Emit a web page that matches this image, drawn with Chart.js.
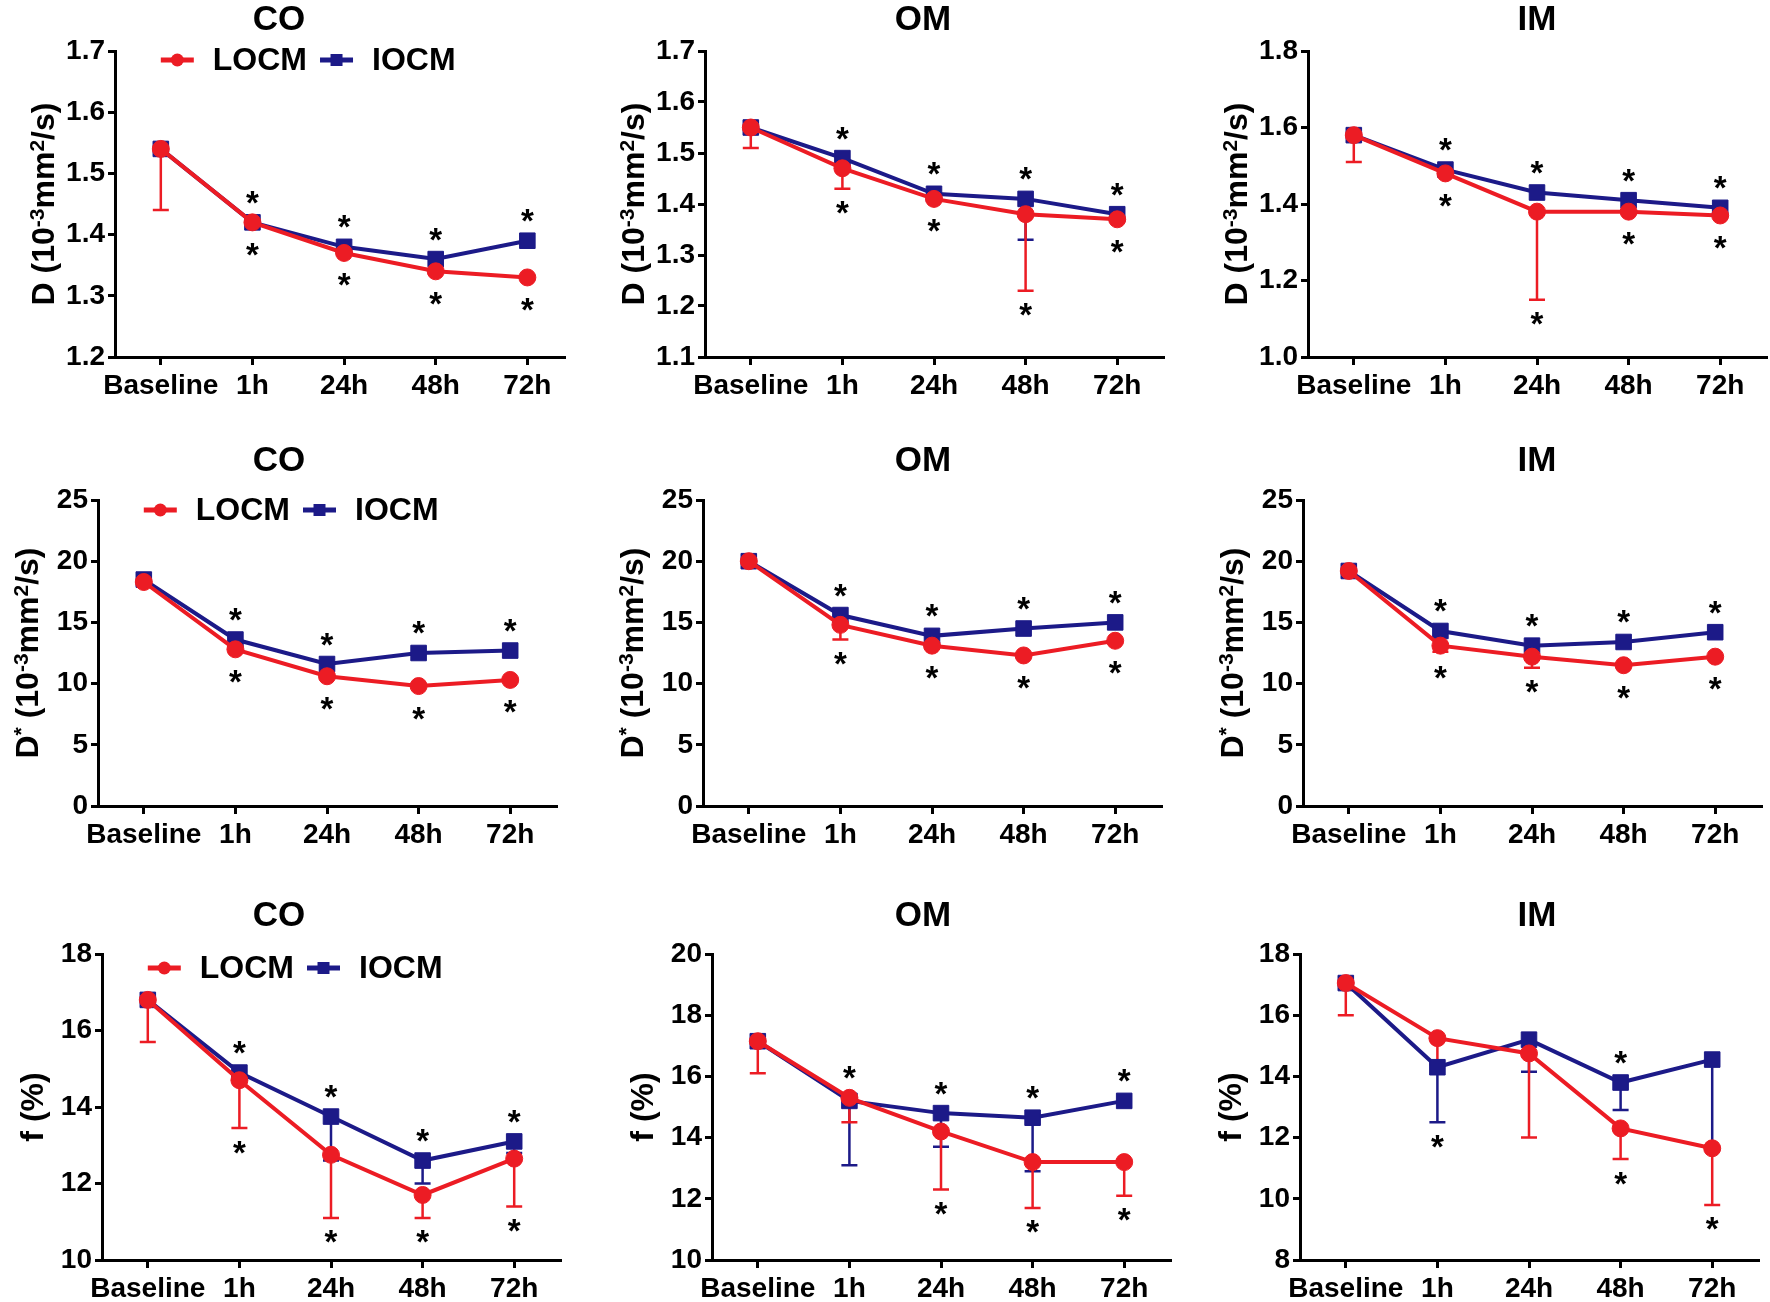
<!DOCTYPE html>
<html>
<head>
<meta charset="utf-8">
<script src="https://cdn.jsdelivr.net/npm/chart.js@4.4.1/dist/chart.umd.min.js"></script>
<style>
  html, body { margin: 0; padding: 0; background: #fff; }
  body { width: 1770px; height: 1302px; position: relative; overflow: hidden; font-family: "Liberation Sans", Arial, sans-serif; }
  canvas { position: absolute; }
  .panel-title { position: absolute; font-weight: bold; font-size: 35px; line-height: 35px; transform: translateX(-50%); white-space: nowrap; color: #000; }
</style>
</head>
<body>
<script>
const timePoints = ["Baseline", "1h", "24h", "48h", "72h"];
const regions = ["CO", "OM", "IM"];
const seriesNames = ["LOCM", "IOCM"];

// D (10^-3 mm2/s)
const dCoLocm = [1.54, 1.42, 1.37, 1.34, 1.33];
const dCoIocm = [1.54, 1.42, 1.38, 1.36, 1.39];
const dCoLocmErr = [1.44, null, null, null, null];
const dCoIocmErr = [null, null, null, null, null];
const dCoUp = [0, 1, 1, 1, 1];
const dCoDown = [0, 1, 1, 1, 1];
const dCoTicks = [1.2, 1.7, 0.1];

const dOmLocm = [1.55, 1.47, 1.41, 1.38, 1.37];
const dOmIocm = [1.55, 1.49, 1.42, 1.41, 1.38];
const dOmLocmErr = [1.51, 1.43, null, 1.23, null];
const dOmIocmErr = [null, null, null, 1.33, null];
const dOmUp = [0, 1, 1, 1, 1];
const dOmDown = [0, 1, 1, 1, 1];
const dOmTicks = [1.1, 1.7, 0.1];

const dImLocm = [1.58, 1.48, 1.38, 1.38, 1.37];
const dImIocm = [1.58, 1.49, 1.43, 1.41, 1.39];
const dImLocmErr = [1.51, null, 1.15, null, null];
const dImIocmErr = [null, null, null, null, null];
const dImUp = [0, 1, 1, 1, 1];
const dImDown = [0, 1, 1, 1, 1];
const dImTicks = [1.0, 1.8, 0.2];

// D* (10^-3 mm2/s)
const dsCoLocm = [18.3, 12.8, 10.6, 9.8, 10.3];
const dsCoIocm = [18.5, 13.6, 11.6, 12.5, 12.7];
const dsCoLocmErr = [null, null, null, null, null];
const dsCoIocmErr = [null, null, null, null, null];
const dsCoUp = [0, 1, 1, 1, 1];
const dsCoDown = [0, 1, 1, 1, 1];

const dsOmLocm = [20.0, 14.8, 13.1, 12.3, 13.5];
const dsOmIocm = [20.0, 15.6, 13.9, 14.5, 15.0];
const dsOmLocmErr = [null, 13.6, null, null, null];
const dsOmIocmErr = [null, null, null, null, null];
const dsOmUp = [0, 1, 1, 1, 1];
const dsOmDown = [0, 1, 1, 1, 1];

const dsImLocm = [19.2, 13.1, 12.2, 11.5, 12.2];
const dsImIocm = [19.2, 14.3, 13.1, 13.4, 14.2];
const dsImLocmErr = [null, 12.6, 11.3, null, null];
const dsImIocmErr = [null, null, null, null, null];
const dsImUp = [0, 1, 1, 1, 1];
const dsImDown = [0, 1, 1, 1, 1];
const dsTicks = [0, 25, 5];

// f (%)
const fCoLocm = [16.8, 14.7, 12.75, 11.7, 12.65];
const fCoIocm = [16.8, 14.9, 13.75, 12.6, 13.1];
const fCoLocmErr = [15.7, 13.45, 11.1, 11.1, 11.4];
const fCoIocmErr = [null, null, 12.6, 12.0, 12.8];
const fCoUp = [0, 1, 1, 1, 1];
const fCoDown = [0, 1, 1, 1, 1];
const fCoTicks = [10, 18, 2];

const fOmLocm = [17.15, 15.3, 14.2, 13.2, 13.2];
const fOmIocm = [17.15, 15.2, 14.8, 14.65, 15.2];
const fOmLocmErr = [16.1, 14.5, 12.3, 11.7, 12.1];
const fOmIocmErr = [null, 13.1, 13.7, 12.9, null];
const fOmUp = [0, 1, 1, 1, 1];
const fOmDown = [0, 0, 1, 1, 1];
const fOmTicks = [10, 20, 2];

const fImLocm = [17.05, 15.25, 14.75, 12.3, 11.65];
const fImIocm = [17.05, 14.3, 15.2, 13.8, 14.55];
const fImLocmErr = [16.0, 14.4, 12.0, 11.3, 9.8];
const fImIocmErr = [null, 12.5, 14.15, 12.9, 11.6];
const fImUp = [0, 0, 0, 1, 0];
const fImDown = [0, 1, 0, 1, 1];
const fImTicks = [8, 18, 2];

// axis titles, [text, superscript]
const dTitle = [["D (10", 0], ["-3", 1], ["mm", 0], ["2", 1], ["/s)", 0]];
const dStarTitle = [["D", 0], ["*", 1], [" (10", 0], ["-3", 1], ["mm", 0], ["2", 1], ["/s)", 0]];
const fTitle = [["f (%)", 0]];

const RED = "#ec1c24";
const BLUE = "#1c1a88";
const FONT = '"Liberation Sans", Arial, sans-serif';

// page layout
const rowTop = [51, 500, 954];
const rowTitleY = [17, 458, 913];
const colTitleX = [279, 923, 1537];
const axisLeft = [[115, 705, 1308], [98, 703, 1303], [102, 712, 1300]];
const legendDy = [9, 10, 14];
const yTitleDx = [-72, -71, -70];
const plotH = 306, catStep = 91.6, yAxisW = 130, padTop = 40, xAxisH = 60, padRight = 12;

const panels = [
  { row: 0, col: 0, locm: dCoLocm, iocm: dCoIocm, locmErr: dCoLocmErr, iocmErr: dCoIocmErr, up: dCoUp, down: dCoDown, ticks: dCoTicks, digits: 1, title: dTitle, xMax: 4.4, legend: true },
  { row: 0, col: 1, locm: dOmLocm, iocm: dOmIocm, locmErr: dOmLocmErr, iocmErr: dOmIocmErr, up: dOmUp, down: dOmDown, ticks: dOmTicks, digits: 1, title: dTitle, xMax: 4.5 },
  { row: 0, col: 2, locm: dImLocm, iocm: dImIocm, locmErr: dImLocmErr, iocmErr: dImIocmErr, up: dImUp, down: dImDown, ticks: dImTicks, digits: 1, title: dTitle, xMax: 4.5 },
  { row: 1, col: 0, locm: dsCoLocm, iocm: dsCoIocm, locmErr: dsCoLocmErr, iocmErr: dsCoIocmErr, up: dsCoUp, down: dsCoDown, ticks: dsTicks, digits: 0, title: dStarTitle, xMax: 4.5, legend: true },
  { row: 1, col: 1, locm: dsOmLocm, iocm: dsOmIocm, locmErr: dsOmLocmErr, iocmErr: dsOmIocmErr, up: dsOmUp, down: dsOmDown, ticks: dsTicks, digits: 0, title: dStarTitle, xMax: 4.5 },
  { row: 1, col: 2, locm: dsImLocm, iocm: dsImIocm, locmErr: dsImLocmErr, iocmErr: dsImIocmErr, up: dsImUp, down: dsImDown, ticks: dsTicks, digits: 0, title: dStarTitle, xMax: 4.5 },
  { row: 2, col: 0, locm: fCoLocm, iocm: fCoIocm, locmErr: fCoLocmErr, iocmErr: fCoIocmErr, up: fCoUp, down: fCoDown, ticks: fCoTicks, digits: 0, title: fTitle, xMax: 4.5, legend: true },
  { row: 2, col: 1, locm: fOmLocm, iocm: fOmIocm, locmErr: fOmLocmErr, iocmErr: fOmIocmErr, up: fOmUp, down: fOmDown, ticks: fOmTicks, digits: 0, title: fTitle, xMax: 4.5 },
  { row: 2, col: 2, locm: fImLocm, iocm: fImIocm, locmErr: fImLocmErr, iocmErr: fImIocmErr, up: fImUp, down: fImDown, ticks: fImTicks, digits: 0, title: fTitle, xMax: 4.5 },
];

// one-sided error bars (drawn under the lines)
const errorBars = {
  id: "errorBars",
  beforeDatasetsDraw(chart) {
    const ctx = chart.ctx;
    const y = chart.scales.y;
    for (let i = chart.data.datasets.length - 1; i >= 0; i--) {
      const ds = chart.data.datasets[i];
      const meta = chart.getDatasetMeta(i);
      ctx.save();
      ctx.strokeStyle = ds.borderColor;
      ctx.lineWidth = 2.5;
      ds.errLow.forEach((lo, j) => {
        if (lo == null) return;
        const pt = meta.data[j];
        const yLo = y.getPixelForValue(lo);
        ctx.beginPath();
        ctx.moveTo(pt.x, pt.y);
        ctx.lineTo(pt.x, yLo);
        ctx.moveTo(pt.x - 8, yLo);
        ctx.lineTo(pt.x + 8, yLo);
        ctx.stroke();
      });
      ctx.restore();
    }
  },
};

// significance asterisks above / below each time point
const stars = {
  id: "stars",
  afterDatasetsDraw(chart, args, opts) {
    const ctx = chart.ctx;
    const y = chart.scales.y;
    const size = 33;
    ctx.save();
    ctx.fillStyle = "#000";
    ctx.font = "bold " + size + "px " + FONT;
    ctx.textAlign = "center";
    ctx.textBaseline = "alphabetic";
    timePoints.forEach((t, j) => {
      let top = Infinity, bottom = -Infinity, x = 0;
      chart.data.datasets.forEach((ds, i) => {
        const pt = chart.getDatasetMeta(i).data[j];
        x = pt.x;
        top = Math.min(top, pt.y - 8);
        bottom = Math.max(bottom, pt.y + 8);
        if (ds.errLow[j] != null) bottom = Math.max(bottom, y.getPixelForValue(ds.errLow[j]));
      });
      if (opts.up[j]) ctx.fillText("*", x, top - opts.gap + 0.53 * size);
      if (opts.down[j]) ctx.fillText("*", x, bottom + opts.gap + 0.53 * size);
    });
    ctx.restore();
  },
};

// legend: line with marker, then label
const lineLegend = {
  id: "lineLegend",
  afterDraw(chart, args, opts) {
    if (!opts.show) return;
    const ctx = chart.ctx;
    const yc = chart.chartArea.top + opts.dy;
    let x = chart.scales.x.getPixelForValue(0);
    ctx.save();
    ctx.font = "bold 32px " + FONT;
    ctx.textBaseline = "middle";
    ctx.textAlign = "left";
    chart.data.datasets.forEach((ds) => {
      ctx.strokeStyle = ds.borderColor;
      ctx.fillStyle = ds.borderColor;
      ctx.lineWidth = 5;
      ctx.beginPath();
      ctx.moveTo(x, yc);
      ctx.lineTo(x + 33, yc);
      ctx.stroke();
      ctx.beginPath();
      if (ds.pointStyle === "rect") ctx.rect(x + 16.5 - 6, yc - 6, 12, 12);
      else ctx.arc(x + 16.5, yc, 6.5, 0, Math.PI * 2);
      ctx.fill();
      x += 33 + 19;
      ctx.fillStyle = "#000";
      ctx.fillText(ds.label, x, yc + 1);
      x += ctx.measureText(ds.label).width + 13;
    });
    ctx.restore();
  },
};

// rotated y-axis title with superscripts
const yTitle = {
  id: "yTitle",
  afterDraw(chart, args, opts) {
    const ctx = chart.ctx;
    const size = 32, supSize = 21;
    const area = chart.chartArea;
    ctx.save();
    ctx.translate(area.left + opts.dx, (area.top + area.bottom) / 2);
    ctx.rotate(-Math.PI / 2);
    ctx.fillStyle = "#000";
    ctx.textBaseline = "alphabetic";
    ctx.textAlign = "left";
    const fontFor = (sup) => "bold " + (sup ? supSize : size) + "px " + FONT;
    let total = 0;
    opts.parts.forEach(([t, sup]) => {
      ctx.font = fontFor(sup);
      total += ctx.measureText(t).width;
    });
    let x = -total / 2;
    opts.parts.forEach(([t, sup]) => {
      ctx.font = fontFor(sup);
      ctx.fillText(t, x, sup ? 0.03 * size : 0.358 * size);
      x += ctx.measureText(t).width;
    });
    ctx.restore();
  },
};

function makePanel(p) {
  const left = axisLeft[p.row][p.col] - yAxisW;
  const top = rowTop[p.row] - padTop;
  const plotW = catStep * (p.xMax + 0.5);
  const canvas = document.createElement("canvas");
  canvas.width = Math.round(yAxisW + plotW + padRight);
  canvas.height = padTop + plotH + xAxisH;
  canvas.style.left = left + "px";
  canvas.style.top = top + "px";
  document.body.appendChild(canvas);

  const title = document.createElement("div");
  title.className = "panel-title";
  title.textContent = regions[p.col];
  title.style.left = colTitleX[p.col] + "px";
  title.style.top = rowTitleY[p.row] - 17 + "px";
  document.body.appendChild(title);

  const [yMin, yMax, yStep] = p.ticks;
  const tickFont = { family: FONT, size: 28, weight: "bold" };

  new Chart(canvas.getContext("2d"), {
    type: "line",
    data: {
      datasets: [
        {
          label: seriesNames[0],
          data: p.locm.map((v, i) => ({ x: i, y: v })),
          errLow: p.locmErr,
          borderColor: RED,
          backgroundColor: RED,
          borderWidth: 4,
          pointStyle: "circle",
          pointRadius: 8.5,
          pointBorderWidth: 1,
          pointBackgroundColor: RED,
          tension: 0,
        },
        {
          label: seriesNames[1],
          data: p.iocm.map((v, i) => ({ x: i, y: v })),
          errLow: p.iocmErr,
          borderColor: BLUE,
          backgroundColor: BLUE,
          borderWidth: 4,
          pointStyle: "rect",
          pointRadius: 11,
          pointBorderWidth: 1,
          pointBackgroundColor: BLUE,
          tension: 0,
        },
      ],
    },
    options: {
      responsive: false,
      animation: false,
      events: [],
      layout: { padding: { top: padTop, right: padRight, left: 0, bottom: 0 } },
      scales: {
        x: {
          type: "linear",
          min: -0.5,
          max: p.xMax,
          afterBuildTicks: (s) => { s.ticks = timePoints.map((t, i) => ({ value: i })); },
          afterFit: (s) => { s.height = xAxisH; },
          ticks: {
            callback: (v) => timePoints[v],
            autoSkip: false,
            maxRotation: 0,
            color: "#000",
            font: tickFont,
            padding: 4,
          },
          grid: { drawOnChartArea: false, drawTicks: true, tickLength: 8, color: "#000", lineWidth: 3 },
          border: { color: "#000", width: 3 },
        },
        y: {
          min: yMin,
          max: yMax,
          afterFit: (s) => { s.width = yAxisW; },
          ticks: {
            stepSize: yStep,
            callback: (v) => v.toFixed(p.digits),
            color: "#000",
            font: tickFont,
            padding: 3,
          },
          grid: { drawOnChartArea: false, drawTicks: true, tickLength: 7, color: "#000", lineWidth: 3 },
          border: { color: "#000", width: 3 },
        },
      },
      plugins: {
        legend: { display: false },
        tooltip: { enabled: false },
        stars: { up: p.up, down: p.down, gap: 18 },
        lineLegend: { show: !!p.legend, dy: legendDy[p.row] },
        yTitle: { parts: p.title, dx: yTitleDx[p.row] },
      },
    },
    plugins: [errorBars, stars, lineLegend, yTitle],
  });
}

panels.forEach(makePanel);
</script>
</body>
</html>
